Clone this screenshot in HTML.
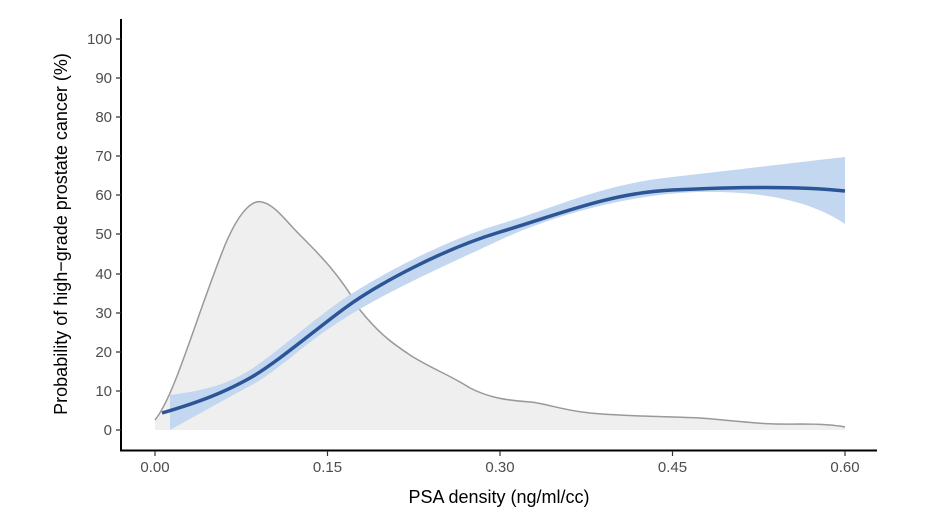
<!DOCTYPE html>
<html><head><meta charset="utf-8"><style>body{margin:0;background:#fff}svg{display:block}text{font-family:"Liberation Sans",sans-serif;fill:#4d4d4d;font-size:15px}</style></head>
<body><svg width="947" height="525" viewBox="0 0 947 525">
<path d="M155,420 C175,395 195,320 225,245 C242,205 255,200 262,202 C275,205 285,220 300,235 C320,255 340,275 360,310 C380,335 395,345 410,355 C430,368 450,375 470,388 C490,398 505,400 530,402 C545,403 560,410 590,413 C620,416 650,416 700,418 C740,421 760,425 800,424 C830,424 840,426 845,427 L845,430 L155,430 Z" fill="#efefef"/>
<path d="M155,420 C175,395 195,320 225,245 C242,205 255,200 262,202 C275,205 285,220 300,235 C320,255 340,275 360,310 C380,335 395,345 410,355 C430,368 450,375 470,388 C490,398 505,400 530,402 C545,403 560,410 590,413 C620,416 650,416 700,418 C740,421 760,425 800,424 C830,424 840,426 845,427" fill="none" stroke="#999" stroke-width="1.5"/>
<path d="M170,395 C200,391 225,386 250,370 S315,318 345,298 S440,242 500,224 S600,185 672,177 S800,162 845,157 L845,224 C810,200 760,191 700,192 S560,212 500,240 S390,290 345,318 S280,370 250,386 S190,419 170,430 Z" fill="#c3d7f0"/>
<path d="M162,413 C200,402 225,392 250,378 S315,330 345,308 S440,250 500,232 S610,193 672,190 S800,186 845,191" fill="none" stroke="#2c5596" stroke-width="3.5"/>
<path d="M121,19 V450.5 H877" fill="none" stroke="#000" stroke-width="2"/>
<g stroke="#333" stroke-width="1.2">
<path d="M116,39H121M116,78H121M116,117H121M116,156H121M116,195H121M116,234H121M116,274H121M116,313H121M116,352H121M116,391H121M116,430H121"/>
<path d="M155,451V456M327.5,451V456M500,451V456M672.5,451V456M845,451V456"/>
</g>
<g text-anchor="end">
<text x="112" y="44">100</text><text x="112" y="83">90</text><text x="112" y="122">80</text><text x="112" y="161">70</text><text x="112" y="200">60</text><text x="112" y="239">50</text><text x="112" y="279">40</text><text x="112" y="318">30</text><text x="112" y="357">20</text><text x="112" y="396">10</text><text x="112" y="435">0</text>
</g>
<g text-anchor="middle">
<text x="155" y="472">0.00</text><text x="327.5" y="472">0.15</text><text x="500" y="472">0.30</text><text x="672.5" y="472">0.45</text><text x="845" y="472">0.60</text>
<text x="499" y="503" style="font-size:18px;fill:#000">PSA density (ng/ml/cc)</text>
<text transform="translate(67,234) rotate(-90)" style="font-size:18px;fill:#000">Probability of high−grade prostate cancer (%)</text>
</g>
</svg></body></html>
